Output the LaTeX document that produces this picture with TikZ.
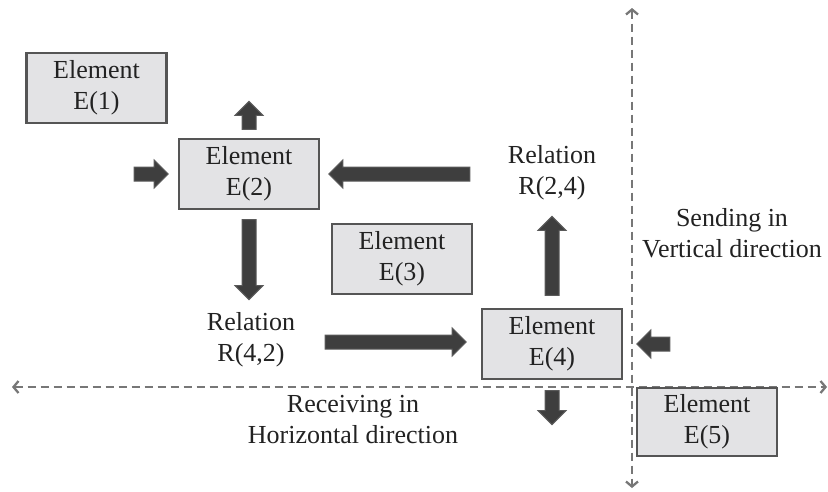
\documentclass[tikz,border=0pt]{standalone}
\usepackage{fontspec}
\setmainfont{Liberation Serif}
\usepackage{tikz}
\usetikzlibrary{shapes,arrows,arrows.meta,positioning}

\definecolor{boxfill}{HTML}{E3E3E5}
\definecolor{boxline}{HTML}{555555}
\definecolor{arrfill}{HTML}{3E3E3E}
\definecolor{arrline}{HTML}{5A5A5A}
\definecolor{axisgray}{HTML}{777777}
\definecolor{txt}{HTML}{222222}

\tikzset{
  elem/.style={draw=boxline, fill=boxfill, line width=2.2pt, minimum width=140pt, minimum height=70pt, inner sep=0pt, align=center, text=txt},
  lbl/.style={align=center, text=txt, inner sep=0pt},
  blockarr/.style={single arrow, draw=arrline, fill=arrfill, line width=1pt, inner sep=6.5pt, minimum width=27pt, single arrow head extend=7pt, single arrow tip angle=90},
  axis/.style={draw=axisgray, line width=2.3pt, dash pattern=on 8pt off 5pt, {Straight Barb[length=5pt,width=12pt]}-{Straight Barb[length=5pt,width=12pt]}}
}

\begin{document}
\begin{tikzpicture}[x=1pt, y=-1pt, font=\fontsize{26}{31}\selectfont]
  \useasboundingbox (0,0) rectangle (828,491);
  % axes
  \coordinate (vtop) at (632,8);   \coordinate (vbot) at (632,488);
  \coordinate (hleft) at (12,387); \coordinate (hright) at (827,387);
  \draw[axis] (vtop) -- (vbot);
  \draw[axis] (hleft) -- (hright);
  % elements
  \node[elem] (e1) at (96.5,88) {Element\\E(1)};
  \node[elem] (e2) at (249,174) {Element\\E(2)};
  \node[elem] (e3) at (402,259) {Element\\E(3)};
  \node[elem] (e4) at (552,344) {Element\\E(4)};
  \node[elem, minimum height=68pt] (e5) at (707,422) {Element\\E(5)};
  % texts
  \node[lbl] (r24) at (552,173) {Relation\\R(2,4)};
  \node[lbl] (r42) at (251,340) {Relation\\R(4,2)};
  \node[lbl] (send) at (732,233) {Sending in\\Vertical direction};
  \node[lbl] (recv) at (353,420) {Receiving in\\Horizontal direction};
  % block arrows round E(2)
  \node[blockarr, shape border rotate=90, minimum height=28pt, above=8pt of e2] (a2up) {};
  \node[blockarr, minimum height=34pt, left=9pt of e2] (a2in) {};
  \node[blockarr, shape border rotate=270, minimum height=80pt, below=9pt of e2] (a2down) {};
  \node[blockarr, shape border rotate=180, minimum height=141pt, right=8pt of e2] (a24) {};
  % block arrows round E(4)
  \node[blockarr, minimum height=141pt, left=14pt of e4, yshift=2pt] (a42) {};
  \node[blockarr, shape border rotate=90, minimum height=79pt, above=12pt of e4] (a4up) {};
  \node[blockarr, shape border rotate=180, minimum height=33pt, right=13pt of e4] (a4in) {};
  \node[blockarr, shape border rotate=270, minimum height=34pt, below=10pt of e4] (a4down) {};
\end{tikzpicture}
\end{document}
